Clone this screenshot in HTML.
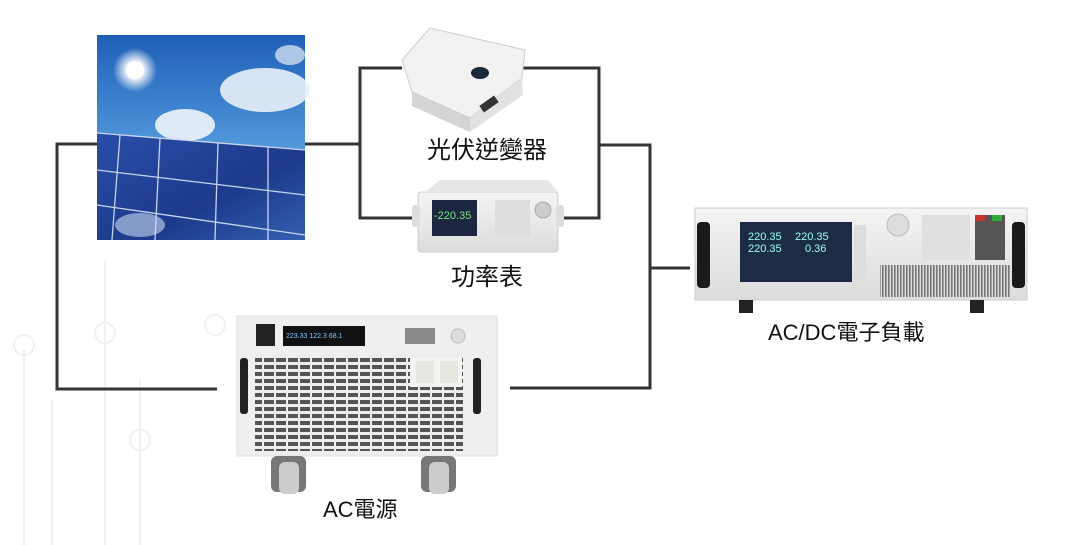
<!DOCTYPE html>
<html><head><meta charset="utf-8"><style>
html,body{margin:0;padding:0;background:#fff;}
svg{display:block;}
text{font-family:"Liberation Sans","Noto Sans CJK TC",sans-serif;fill:#111;}
</style></head><body>
<svg width="1086" height="545" viewBox="0 0 1086 545" xmlns="http://www.w3.org/2000/svg">
<defs>
<linearGradient id="sky" x1="0" y1="0" x2="0" y2="1"><stop offset="0" stop-color="#1f5fb8"/><stop offset="0.5" stop-color="#4d93d8"/><stop offset="1" stop-color="#8ec0ea"/></linearGradient>
<linearGradient id="pan" x1="0" y1="0" x2="1" y2="1"><stop offset="0" stop-color="#2a4ea8"/><stop offset="0.6" stop-color="#1d3a8c"/><stop offset="1" stop-color="#3360b0"/></linearGradient>
<radialGradient id="sun"><stop offset="0" stop-color="#fff"/><stop offset="0.4" stop-color="#fff" stop-opacity="0.9"/><stop offset="1" stop-color="#fff" stop-opacity="0"/></radialGradient>
<linearGradient id="gray" x1="0" y1="0" x2="0" y2="1"><stop offset="0" stop-color="#f4f4f4"/><stop offset="1" stop-color="#dcdcdc"/></linearGradient>
<pattern id="grill" width="12" height="7" patternUnits="userSpaceOnUse"><rect width="12" height="7" fill="#eee"/><rect x="0" y="1" width="10" height="4" fill="#555"/></pattern>
<pattern id="vent" width="3" height="10" patternUnits="userSpaceOnUse"><rect width="3" height="10" fill="#ddd"/><rect x="0" y="0" width="1.6" height="10" fill="#777"/></pattern>
</defs>
<!-- faint background -->
<g stroke="#f1f1f1" stroke-width="2" fill="none">
<line x1="24" y1="350" x2="24" y2="545"/><line x1="52" y1="400" x2="52" y2="545"/><line x1="105" y1="260" x2="105" y2="545"/><line x1="140" y1="380" x2="140" y2="545"/>
<circle cx="24" cy="345" r="10"/><circle cx="105" cy="333" r="10"/><circle cx="140" cy="440" r="10"/><circle cx="215" cy="325" r="10"/>
</g>
<!-- connectors -->
<g stroke="#333" stroke-width="3" fill="none">
<polyline points="97,144 57,144 57,389 217,389"/>
<line x1="305" y1="144" x2="360" y2="144"/>
<polyline points="402,68 360,68 360,218 414,218"/>
<polyline points="523,68 599,68 599,218 563,218"/>
<polyline points="599,145 650,145 650,388 510,388"/>
<line x1="650" y1="268" x2="690" y2="268"/>
</g>
<!-- solar image -->
<rect x="97" y="35" width="208" height="205" fill="url(#sky)"/>
<circle cx="135" cy="70" r="22" fill="url(#sun)"/>
<circle cx="135" cy="70" r="9" fill="#fff"/>
<ellipse cx="265" cy="90" rx="45" ry="22" fill="#e8f0f8" opacity="0.9"/>
<ellipse cx="185" cy="125" rx="30" ry="16" fill="#eef4fa" opacity="0.9"/>
<ellipse cx="290" cy="55" rx="15" ry="10" fill="#e8f0f8" opacity="0.7"/>
<polygon points="97,133 305,150 305,240 97,240" fill="url(#pan)"/>
<g stroke="#c8d4ee" stroke-width="1.3">
<line x1="97" y1="133" x2="305" y2="150"/><line x1="97" y1="170" x2="305" y2="195"/><line x1="97" y1="205" x2="305" y2="235"/>
<line x1="120" y1="135" x2="112" y2="240"/><line x1="160" y1="138" x2="155" y2="240"/><line x1="218" y1="143" x2="215" y2="240"/><line x1="268" y1="147" x2="268" y2="240"/>
</g>
<ellipse cx="140" cy="225" rx="25" ry="12" fill="#c9daf0" opacity="0.6"/>
<!-- inverter -->
<polygon points="402,60 430,28 525,50 522,78 470,118 412,92" fill="#f2f2f2" stroke="#ccc"/>
<polygon points="412,92 470,118 470,132 412,106" fill="#d4d4d4"/>
<polygon points="470,118 522,78 523,95 470,132" fill="#e2e2e2"/>
<ellipse cx="480" cy="73" rx="9" ry="6" fill="#1a2a3a"/>
<rect x="480" y="100" width="18" height="8" fill="#333" transform="rotate(-35 489 104)"/>
<!-- power meter -->
<rect x="418" y="192" width="140" height="60" rx="3" fill="url(#gray)" stroke="#ccc"/>
<polygon points="425,192 440,180 548,180 558,192" fill="#e6e6e6"/>
<rect x="432" y="200" width="45" height="36" fill="#1c2640"/>
<text x="434" y="219" font-size="11" style="fill:#7fe37f">-220.35</text>
<rect x="495" y="200" width="35" height="36" fill="#ddd"/>
<circle cx="543" cy="210" r="8" fill="#ccc" stroke="#aaa"/>
<rect x="412" y="205" width="8" height="22" rx="3" fill="#ddd"/>
<rect x="556" y="205" width="8" height="22" rx="3" fill="#ddd"/>
<!-- AC source -->
<rect x="237" y="316" width="260" height="140" fill="#efefef" stroke="#ddd"/>
<rect x="240" y="358" width="8" height="56" rx="3" fill="#222"/>
<rect x="473" y="358" width="8" height="56" rx="3" fill="#222"/>
<rect x="256" y="324" width="19" height="22" fill="#222"/>
<rect x="283" y="326" width="82" height="20" fill="#111"/>
<text x="286" y="338" font-size="7" style="fill:#7cf">223.33 122.3 68.1</text>
<rect x="405" y="328" width="30" height="16" fill="#888"/>
<circle cx="458" cy="336" r="7" fill="#ddd" stroke="#bbb"/>
<rect x="255" y="355" width="208" height="96" fill="url(#grill)"/>
<rect x="410" y="357" width="52" height="30" fill="#f3f3f3"/>
<rect x="416" y="361" width="18" height="22" fill="#e8e6e0"/><rect x="440" y="361" width="18" height="22" fill="#e8e6e0"/>
<rect x="271" y="456" width="35" height="36" rx="6" fill="#777"/><rect x="279" y="462" width="20" height="32" rx="6" fill="#ccc"/>
<rect x="421" y="456" width="35" height="36" rx="6" fill="#777"/><rect x="429" y="462" width="20" height="32" rx="6" fill="#ccc"/>
<!-- load -->
<rect x="695" y="208" width="332" height="92" fill="url(#gray)" stroke="#ccc"/>
<rect x="697" y="222" width="13" height="66" rx="4" fill="#1a1a1a"/>
<rect x="1012" y="222" width="13" height="66" rx="4" fill="#1a1a1a"/>
<rect x="740" y="222" width="112" height="60" fill="#1c2c44"/>
<text x="748" y="240" font-size="11" style="fill:#9fe">220.35</text><text x="795" y="240" font-size="11" style="fill:#9fe">220.35</text>
<text x="748" y="252" font-size="11" style="fill:#9fe">220.35</text><text x="805" y="252" font-size="11" style="fill:#9fe">0.36</text>
<rect x="854" y="225" width="12" height="55" fill="#ddd"/>
<circle cx="898" cy="225" r="11" fill="#ddd" stroke="#bbb"/>
<rect x="922" y="215" width="48" height="45" fill="#e0e0e0"/>
<rect x="975" y="215" width="30" height="45" fill="#555"/>
<rect x="975" y="215" width="10" height="6" fill="#c33"/><rect x="992" y="215" width="10" height="6" fill="#3a3"/>
<rect x="880" y="265" width="130" height="32" fill="url(#vent)"/>
<rect x="739" y="300" width="14" height="13" fill="#222"/><rect x="970" y="300" width="14" height="13" fill="#222"/>
<!-- labels -->
<text x="427" y="158" font-size="24">光伏逆變器</text>
<text x="451" y="285" font-size="24">功率表</text>
<text x="768" y="340" font-size="22">AC/DC電子負載</text>
<text x="323" y="517" font-size="22">AC電源</text>
</svg>
</body></html>
